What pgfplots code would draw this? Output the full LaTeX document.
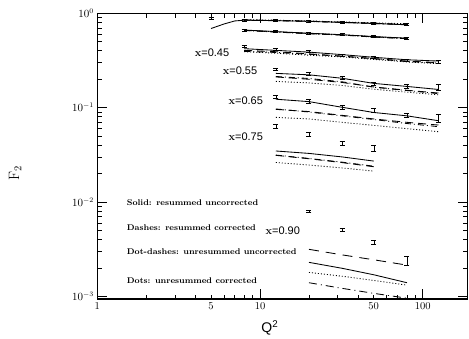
\documentclass[border=0pt]{standalone}
\usepackage{pgfplots}
\pgfplotsset{compat=1.18}
\usepackage{fontspec}
\newfontfamily\hv{Liberation Sans}
\newcommand{\xl}[1]{{\fontsize{11}{12}\selectfont\textbf{x}\hv=#1}}
\newcommand{\lt}[1]{{\fontsize{8.3}{9}\selectfont\bfseries #1}}
\begin{document}
\begin{tikzpicture}
\path[use as bounding box] (-97.3pt,-39pt) rectangle (371.7pt,299pt);
\begin{axis}[
  at={(0,0)}, anchor=south west,
  scale only axis, width=370.4pt, height=285.7pt,
  xmode=log, ymode=log,
  xmin=1, xmax=189, ymin=9.41e-4, ymax=1,
  xtick={1,10,100}, xticklabels={1,10,100},
  extra x ticks={5,50}, extra x tick labels={5,50},
  extra x tick style={major tick length=4.5pt},
  minor xtick={2,3,4,6,7,8,9,20,30,40,60,70,80,90},
  ytick={1,0.1,0.01,0.001},
  minor ytick={2e-3,3e-3,4e-3,5e-3,6e-3,7e-3,8e-3,9e-3,2e-2,3e-2,4e-2,5e-2,6e-2,7e-2,8e-2,9e-2,0.2,0.3,0.4,0.5,0.6,0.7,0.8,0.9},
  major tick length=10pt, minor tick length=4.5pt,
  tick align=inside,
  axis line style={line width=1.2pt},
  tick style={line width=0.8pt, black},
  tick label style={font=\fontsize{10.5}{12}\selectfont},
  clip=false,
  every axis plot/.append style={line width=0.85pt, black},
  error bars/error mark options={rotate=90, mark size=2.5pt, line width=0.85pt},
]
% labels
\node at (rel axis cs:0.466,-0.1) {\hv\fontsize{14}{16}\selectfont Q\textsuperscript{2}};
\node[rotate=90] at (rel axis cs:-0.222,0.441) {\fontsize{15}{17}\selectfont F$_{\mathrm{2}}$};
\node at (axis cs:5.07,0.386) {\xl{0.45}};
\node at (axis cs:7.54,0.245) {\xl{0.55}};
\node at (axis cs:8.17,0.1186) {\xl{0.65}};
\node at (axis cs:8.17,0.0493) {\xl{0.75}};
\node at (axis cs:13.8,0.00498) {\xl{0.90}};
\node[anchor=west] at (axis cs:1.446,0.00995) {\lt{Solid: resummed uncorrected}};
\node[anchor=west] at (axis cs:1.446,0.0054) {\lt{Dashes: resummed corrected}};
\node[anchor=west] at (axis cs:1.446,0.00296) {\lt{Dot-dashes: unresummed uncorrected}};
\node[anchor=west] at (axis cs:1.446,0.00147) {\lt{Dots: unresummed corrected}};

% ---------- data with error bars ----------
\addplot[draw=none, mark=none, error bars/.cd, y dir=both, y explicit] coordinates {
(5,0.878) +- (0,0.022) (8,0.850) +- (0,0.02) (12.5,0.836) +- (0,0.02) (20,0.823) +- (0,0.02)
(32,0.803) +- (0,0.02) (50,0.777) +- (0,0.018) (80,0.764) +- (0,0.02)};
\addplot[draw=none, mark=none, error bars/.cd, y dir=both, y explicit] coordinates {
(8,0.665) +- (0,0.015) (12.5,0.639) +- (0,0.015) (20,0.614) +- (0,0.015)
(32,0.594) +- (0,0.014) (50,0.566) +- (0,0.013) (80,0.543) +- (0,0.014)};
\addplot[draw=none, mark=none, error bars/.cd, y dir=both, y explicit] coordinates {
(8,0.443) +- (0,0.01) (12.5,0.415) +- (0,0.01) (20,0.392) +- (0,0.01) (32,0.359) +- (0,0.01)
(50,0.342) +- (0,0.009) (80,0.318) +- (0,0.009) (125,0.307) +- (0,0.01)};
\addplot[draw=none, mark=none, error bars/.cd, y dir=both, y explicit] coordinates {
(12.5,0.253) +- (0,0.006) (20,0.227) +- (0,0.007) (32,0.206) +- (0,0.008)
(50,0.180) +- (0,0.007) (80,0.168) +- (0,0.008) (125,0.163) +- (0,0.012)};
\addplot[draw=none, mark=none, error bars/.cd, y dir=both, y explicit] coordinates {
(12.5,0.131) +- (0,0.005) (20,0.117) +- (0,0.005) (32,0.101) +- (0,0.005)
(50,0.0929) +- (0,0.0045) (80,0.0829) +- (0,0.0045) (125,0.0777) +- (0,0.008)};
\addplot[draw=none, mark=none, error bars/.cd, y dir=both, y explicit] coordinates {
(12.5,0.0639) +- (0,0.003) (20,0.0518) +- (0,0.0025) (32,0.0419) +- (0,0.002) (50,0.0373) +- (0,0.0025)};
\addplot[draw=none, mark=none, error bars/.cd, y dir=both, y explicit] coordinates {
(20,0.00796) +- (0,0.00025) (32,0.00505) +- (0,0.00018) (50,0.00375) +- (0,0.00016) (80,0.00239) +- (0,0.00025)};

% ---------- curves ----------
% series A
\addplot[solid] coordinates {(5,0.69) (6,0.77) (7,0.83) (8,0.845) (12.5,0.835) (20,0.822) (32,0.80) (50,0.78) (80,0.755)};
\addplot[dash pattern=on 8pt off 5pt] coordinates {(8,0.85) (12.5,0.84) (20,0.826) (32,0.805) (50,0.785) (80,0.76)};
\addplot[dash pattern=on 6pt off 3pt on 1pt off 3pt] coordinates {(8,0.845) (12.5,0.838) (20,0.82) (32,0.80) (50,0.78) (80,0.758)};
\addplot[dash pattern=on 1pt off 2pt] coordinates {(8,0.855) (12.5,0.845) (20,0.83) (32,0.81) (50,0.792) (80,0.775)};
% series B
\addplot[solid] coordinates {(8,0.665) (12.5,0.64) (20,0.615) (32,0.593) (50,0.567) (80,0.545)};
\addplot[dash pattern=on 8pt off 5pt] coordinates {(8,0.66) (12.5,0.635) (20,0.61) (32,0.59) (50,0.562) (80,0.54)};
\addplot[dash pattern=on 6pt off 3pt on 1pt off 3pt] coordinates {(8,0.658) (12.5,0.633) (20,0.608) (32,0.588) (50,0.56) (80,0.538)};
\addplot[dash pattern=on 1pt off 2pt] coordinates {(8,0.662) (12.5,0.638) (20,0.612) (32,0.592) (50,0.565) (80,0.543)};
% x=0.45
\addplot[solid] coordinates {(8,0.422) (12.5,0.405) (20,0.388) (32,0.365) (50,0.342) (80,0.322) (125,0.312)};
\addplot[dash pattern=on 8pt off 5pt] coordinates {(8,0.405) (12.5,0.392) (20,0.372) (32,0.352) (50,0.332) (80,0.312) (125,0.300)};
\addplot[dash pattern=on 6pt off 3pt on 1pt off 3pt] coordinates {(8,0.395) (12.5,0.385) (20,0.368) (32,0.350) (50,0.330) (80,0.308) (125,0.297)};
\addplot[dash pattern=on 1pt off 2pt] coordinates {(8,0.392) (12.5,0.378) (20,0.360) (32,0.345) (50,0.325) (80,0.305) (125,0.293)};
% x=0.55
\addplot[solid] coordinates {(12.5,0.231) (20,0.223) (32,0.205) (50,0.181) (80,0.168) (125,0.156)};
\addplot[dash pattern=on 8pt off 5pt] coordinates {(12.5,0.212) (20,0.200) (32,0.185) (50,0.166) (80,0.153) (125,0.143)};
\addplot[dash pattern=on 6pt off 3pt on 1pt off 3pt] coordinates {(12.5,0.214) (20,0.204) (32,0.188) (50,0.165) (80,0.152) (125,0.141)};
\addplot[dash pattern=on 1pt off 2pt] coordinates {(12.5,0.190) (20,0.183) (32,0.172) (50,0.157) (80,0.146) (125,0.137)};
% x=0.65
\addplot[solid] coordinates {(12.5,0.123) (20,0.116) (32,0.101) (50,0.089) (80,0.082) (125,0.0728)};
\addplot[dash pattern=on 8pt off 5pt] coordinates {(12.5,0.096) (20,0.091) (32,0.083) (50,0.076) (80,0.070) (125,0.0655)};
\addplot[dash pattern=on 6pt off 3pt on 1pt off 3pt] coordinates {(12.5,0.097) (20,0.090) (32,0.082) (50,0.075) (80,0.068) (125,0.063)};
\addplot[dash pattern=on 1pt off 2pt] coordinates {(12.5,0.079) (20,0.076) (32,0.070) (50,0.065) (80,0.060) (125,0.0557)};
% x=0.75
\addplot[solid] coordinates {(12.5,0.0348) (20,0.0328) (32,0.0301) (50,0.0272)};
\addplot[dash pattern=on 8pt off 5pt] coordinates {(12.5,0.0313) (20,0.0288) (32,0.0262) (50,0.0237)};
\addplot[dash pattern=on 6pt off 3pt on 1pt off 3pt] coordinates {(12.5,0.0315) (20,0.0290) (32,0.0265) (50,0.0240)};
\addplot[dash pattern=on 1pt off 2pt] coordinates {(12.5,0.0263) (20,0.0247) (32,0.0230) (50,0.0213)};
% x=0.90
\addplot[dash pattern=on 10pt off 7pt] coordinates {(20,0.00316) (32,0.00276) (50,0.00245) (80,0.00215)};
\addplot[solid] coordinates {(20,0.0023) (32,0.00199) (50,0.00170) (80,0.0014)};
\addplot[dash pattern=on 1pt off 2pt] coordinates {(20,0.0018) (32,0.00164) (50,0.00148) (80,0.00132)};
\addplot[dash pattern=on 8pt off 4pt on 1pt off 4pt] coordinates {(20,0.0014) (32,0.00122) (50,0.00108) (80,0.00096)};
\end{axis}
\end{tikzpicture}
\end{document}
